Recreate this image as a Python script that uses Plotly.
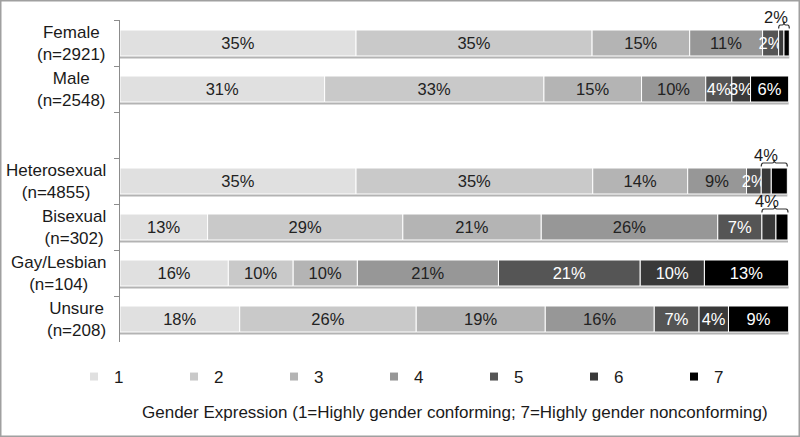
import plotly.graph_objects as go

# ---------------- data ----------------
groups = ["Female", "Male", "Heterosexual", "Bisexual", "Gay/Lesbian", "Unsure"]
ns = [2921, 2548, 4855, 302, 104, 208]
levels = ["1", "2", "3", "4", "5", "6", "7"]

lvl1 = [35.3, 30.6, 35.3, 13.1, 16.2, 17.9]
lvl2 = [35.3, 32.8, 35.4, 29.2, 9.7, 26.4]
lvl3 = [14.6, 14.6, 14.2, 20.7, 9.6, 19.3]
lvl4 = [10.9, 9.6, 8.8, 26.4, 21.1, 16.3]
lvl5 = [2.4, 3.9, 2.2, 6.6, 21.2, 6.7]
lvl6 = [0.8, 2.8, 1.5, 2.1, 9.6, 4.4]
lvl7 = [0.8, 5.7, 2.4, 1.8, 12.6, 9.0]

# rows where levels 6+7 are labelled together with a bracket
bracket_groups = ["Female", "Heterosexual", "Bisexual"]

title_text = "Gender Expression (1=Highly gender conforming; 7=Highly gender nonconforming)"

# ---------------- style ----------------
colors = ["#e0e0e0", "#c9c9c9", "#b4b4b4", "#979797", "#555555", "#393939", "#000000"]
text_colors = ["#222222"] * 4 + ["#ffffff"] * 3
FONT = "Liberation Sans, Arial, sans-serif"
W, H = 800, 437
ML, MR, MT, MB = 120, 10, 20, 95
PW, PH = W - ML - MR, H - MT - MB
BAR_W = 0.565
X_MAX = 100.2

all_levels = [lvl1, lvl2, lvl3, lvl4, lvl5, lvl6, lvl7]
labels = [f"{g}<br>(n={n})" for g, n in zip(groups, ns)]
gap_key = "gap"
axis_order = labels[:2] + [gap_key] + labels[2:]
N_ROWS = len(axis_order)
ROW_PX = PH / N_ROWS


def row_to_paper(r):
    # category index (reversed axis, range [N-0.5, -0.5]) -> paper fraction
    return 1 - (r + 0.5) / N_ROWS


def x_to_paper(x):
    return x / X_MAX


fig = go.Figure()

totals = [sum(v[i] for v in all_levels) for i in range(len(groups))]

# shadow under each bar
fig.add_trace(go.Bar(
    x=totals, y=labels, base=[0] * len(groups), orientation="h",
    width=BAR_W, offset=-BAR_W / 2 + 2.5 / ROW_PX,
    marker=dict(color="#b3b3b3", line=dict(width=0)),
    hoverinfo="skip", showlegend=False,
))

bases = [0.0] * len(groups)
for k, (lvl, vals) in enumerate(zip(levels, all_levels)):
    texts = []
    for i, v in enumerate(vals):
        if groups[i] in bracket_groups and k >= 5:
            texts.append("")
        else:
            texts.append(f"{round(v)}%")
    fig.add_trace(go.Bar(
        x=vals, y=labels, base=list(bases), orientation="h",
        width=BAR_W,
        marker=dict(color=colors[k], line=dict(color="white", width=1)),
        text=texts, textposition="inside", insidetextanchor="middle",
        textangle=0, constraintext="none",
        textfont=dict(family=FONT, size=16.5, color=text_colors[k]),
        name=lvl, showlegend=False, hoverinfo="skip",
    ))
    bases = [b + v for b, v in zip(bases, vals)]

# legend entries (small squares)
for k, lvl in enumerate(levels):
    fig.add_trace(go.Scatter(
        x=[None], y=[None], mode="markers", name=lvl,
        marker=dict(symbol="square", size=8, color=colors[k]),
        showlegend=True,
    ))

annotations = []
# row labels (centered multi-line, right-aligned block)
for lab in labels:
    annotations.append(dict(
        x=0, xref="paper", xshift=-12, xanchor="right",
        y=lab, yref="y", yanchor="middle",
        text=lab, align="center", showarrow=False,
        font=dict(family=FONT, size=17, color="#1a1a1a"),
    ))

shapes = []
# brackets over levels 6+7
for g in bracket_groups:
    i = groups.index(g)
    row = axis_order.index(labels[i])
    x0 = x_to_paper(sum(v[i] for v in all_levels[:5]))
    x1 = x_to_paper(totals[i])
    xm = (x0 + x1) / 2
    top = row_to_paper(row) + (BAR_W / 2) / N_ROWS
    tip = top + 1.5 / PH
    line = top + 5 / PH
    peak = top + 8.5 / PH
    r = min(2 / PW, (x1 - x0) / 6)
    path = (f"M{x0},{tip} Q{x0},{line} {x0 + r},{line} L{xm - r},{line} "
            f"Q{xm},{line} {xm},{peak} Q{xm},{line} {xm + r},{line} "
            f"L{x1 - r},{line} Q{x1},{line} {x1},{tip}")
    shapes.append(dict(type="path", path=path, xref="paper", yref="paper",
                       line=dict(color="#333333", width=1.2)))
    annotations.append(dict(
        x=xm, xref="paper", xshift=-8, y=top + 13 / PH, yref="paper",
        text=f"{round(all_levels[5][i] + all_levels[6][i])}%",
        showarrow=False, xanchor="center", yanchor="middle",
        font=dict(family=FONT, size=16.5, color="#1a1a1a"),
    ))

# axis title below legend
annotations.append(dict(
    x=0.5, xref="paper", y=-(412 - (MT + PH)) / PH,
    yref="paper", xanchor="center", yanchor="middle", showarrow=False,
    text=title_text, font=dict(family=FONT, size=17, color="#1a1a1a"),
))

# outer border
shapes.append(dict(
    type="rect", xref="paper", yref="paper",
    x0=(0.75 - ML) / PW, x1=(W - 0.75 - ML) / PW,
    y0=(0.75 - MB) / PH, y1=(PH + MT - 0.75) / PH,
    line=dict(color="#a0a0a0", width=1.5), fillcolor="rgba(0,0,0,0)", layer="above",
))

fig.update_layout(
    width=W, height=H,
    margin=dict(l=ML, r=MR, t=MT, b=MB),
    barmode="overlay",
    plot_bgcolor="white", paper_bgcolor="white",
    font=dict(family=FONT, size=17, color="#1a1a1a"),
    xaxis=dict(range=[0, X_MAX], visible=False, fixedrange=True),
    yaxis=dict(
        type="category", categoryorder="array", categoryarray=axis_order,
        range=[N_ROWS - 0.5, -0.5],
        showline=True, linecolor="#8c8c8c", linewidth=1,
        ticks="outside", ticklen=5, tickcolor="#8c8c8c", tickson="boundaries",
        showticklabels=False, showgrid=False, zeroline=False,
    ),
    legend=dict(
        orientation="h", x=(74 - ML) / PW, xanchor="left",
        y=-(377 - (MT + PH)) / PH, yanchor="middle",
        entrywidth=55, entrywidthmode="pixels",
        font=dict(family=FONT, size=17, color="#1a1a1a"),
        bgcolor="rgba(0,0,0,0)", traceorder="normal",
    ),
    annotations=annotations,
    shapes=shapes,
    showlegend=True,
)

fig.write_html("out.html", config={"displayModeBar": False},
               post_script="document.body.style.margin='0px';")
